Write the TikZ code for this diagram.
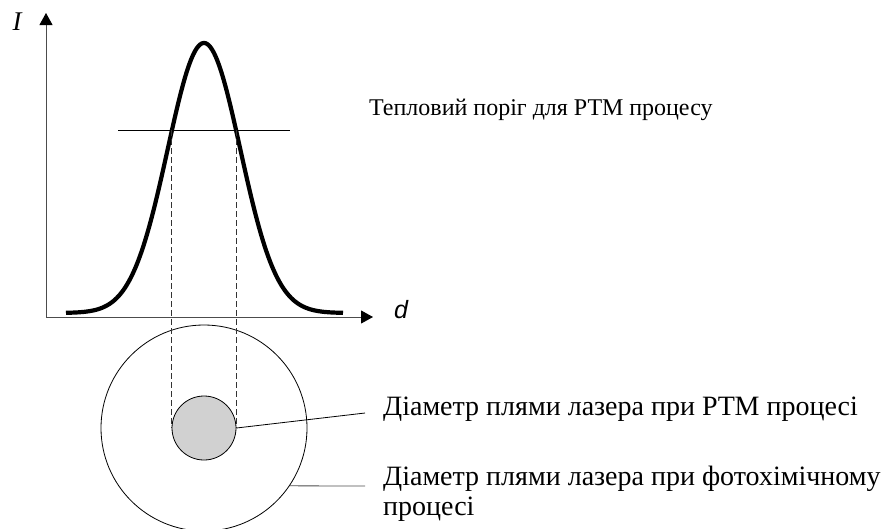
\documentclass[tikz,border=0pt]{standalone}
\usepackage{fontspec}
\setmainfont{Liberation Serif}
\setsansfont{Liberation Sans}
\usetikzlibrary{arrows.meta}

\tikzset{
  axis/.style={line width=0.9pt,black!70,-{Triangle[length=12pt,width=13pt,black]}},
  thin line/.style={line width=0.8pt},
  proj/.style={line width=0.7pt,dash pattern=on 6pt off 3pt,black!80},
  label text/.style={anchor=base west,font=\fontsize{28}{30}\selectfont,align=left,inner sep=0pt}
}

\begin{document}
\begin{tikzpicture}[x=1pt,y=-1pt]
\clip (0,0) rectangle (885,528);
% axes
\coordinate (O) at (46,317);
\coordinate (ytip) at (46,13);
\coordinate (xtip) at (373,317);
\draw[axis] (O) -- (ytip);
\draw[axis] (O) -- (xtip);
\node[anchor=base,inner sep=0pt,font=\fontsize{27}{27}\selectfont\itshape] (ilab) at (17,30) {I};
\node[anchor=base west,inner sep=0pt,font=\fontsize{25}{25}\selectfont\sffamily\itshape] (dlab) at (394,318) {d};
% intensity profile
\draw[line width=4.2pt,domain=66:343,samples=160,smooth,variable=\t]
  plot ({\t},{313-270*exp(-0.5*((\t-204)/36.3)^2)});
% threshold
\coordinate (thl) at (118,130);
\coordinate (thr) at (290,130);
\draw[thin line] (thl) -- (thr);
\node[label text,font=\fontsize{24}{28}\selectfont] (thtxt) at (369,115) {Тепловий поріг для РТМ процесу};
% spots
\node[circle,draw,thin line,minimum size=206pt,inner sep=0pt] (field) at (204,428) {};
\node[circle,draw,thin line,fill=black!18,minimum size=64pt,inner sep=0pt] (spot) at (204,428) {};
\draw[proj] (spot.west |- thl) -- (spot.west);
\draw[proj] (spot.east |- thl) -- (spot.east);
% leaders
\node[label text] (spottxt) at (383,415) {Діаметр плями лазера при РТМ процесі};
\node[label text] (fieldtxt) at (383,515) {Діаметр плями лазера при фотохімічному\\процесі};
\coordinate (l1) at (365,413);
\coordinate (l2) at (365,486);
\draw[thin line] (spot.east) -- (l1);
\draw[thin line,black!70] (field.-34) -- (l2);
\end{tikzpicture}
\end{document}
